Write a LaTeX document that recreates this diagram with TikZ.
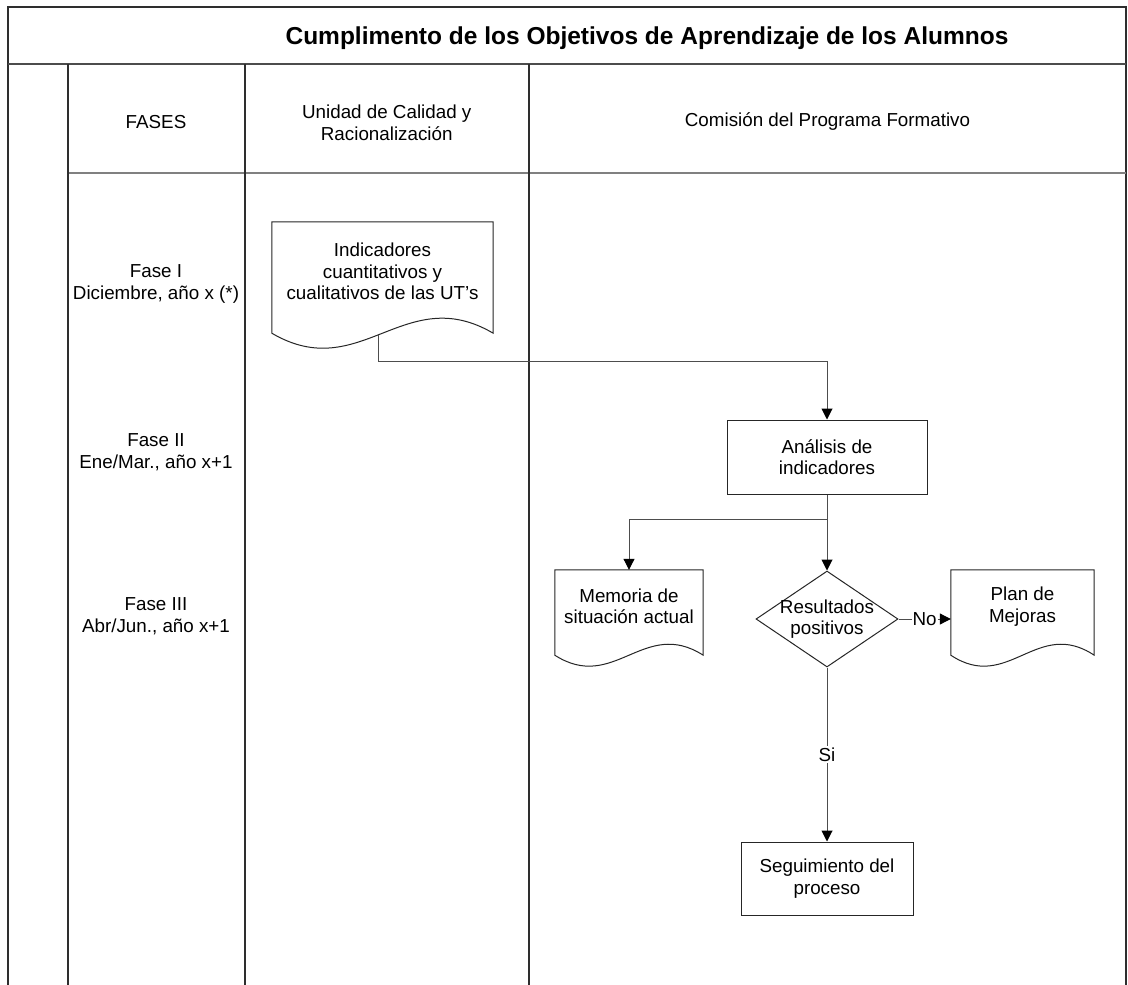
\documentclass[tikz,border=0pt]{standalone}
\usepackage{fontspec}
\setmainfont{Liberation Sans}
\usetikzlibrary{arrows.meta,positioning,calc,shapes.geometric}
\definecolor{laneline}{HTML}{2E2E2E}
\definecolor{flowline}{HTML}{4D4D4D}

% document outline round a node: node name, wave depth
\newcommand{\docoutline}[2]{%
  \draw[shapeline] (#1.north west) -- (#1.north east) -- ($(#1.south east)+(0,12)$)
    .. controls ($(#1.south east)!0.4!(#1.south west)+(0,12-#2)$)
    and ($(#1.south east)!0.6!(#1.south west)+(0,12+#2)$)
    .. ($(#1.south west)+(0,12)$) -- cycle;}

\begin{document}
\begin{tikzpicture}[x=1pt,y=-1pt,
  txt/.style={font={\fontsize{18.8}{21.5}\selectfont},align=center},
  procbox/.style={txt,draw=black!85,line width=1pt,inner sep=2pt},
  docbox/.style={txt,inner sep=0pt},
  decision/.style={diamond,draw=black!85,line width=1pt,inner sep=0pt},
  shapeline/.style={draw=black!85,line width=1pt},
  flow/.style={draw=flowline,line width=1pt,-{Triangle[length=11pt,width=11pt,color=black]}},
  lane/.style={draw=laneline,line width=1.6pt}]
  \useasboundingbox (0,0) rectangle (1128,985);
  \fill[white] (0,0) rectangle (1128,985);

  % Swimlane frame
  \draw[lane] (8,985) -- (8,7) -- (1126,7) -- (1126,985);
  \draw[lane,draw=black!70,line width=2.5pt] (8,64) -- (1126,64);
  \draw[lane,draw=black!50,line width=2pt] (68,173) -- (1126,173);
  \foreach \xl in {68,245,529}
    \draw[lane] (\xl,64) -- (\xl,985);

  % Title
  \node[font={\fontsize{24.5}{28}\selectfont\bfseries}] (title) at (647,38)
    {Cumplimento de los Objetivos de Aprendizaje de los Alumnos};

  % Lane headers
  \node[txt] (hfases) at (156,122) {FASES};
  \node[txt] (hucr) at (386.75,123) {Unidad de Calidad y\\Racionalización};
  \node[txt] (hcpf) at (827.5,122) {Comisión del Programa Formativo};

  % Phases
  \node[txt] (fase1) at (156,284) {Fase I\\Diciembre, año x (*)};
  \node[txt] (fase2) at (156,452) {Fase II\\Ene/Mar., año x+1};
  \node[txt] (fase3) at (156,616) {Fase III\\Abr/Jun., año x+1};

  % Flow shapes
  \node[docbox,minimum width=221pt,minimum height=99pt] (ind) at (382.5,271.5)
    {Indicadores\\cuantitativos y\\cualitativos de las UT's};
  \docoutline{ind}{52}
  \coordinate (indout) at ($(ind.south west)!0.48!(ind.south east)+(0,14)$);

  \node[procbox,minimum width=200pt,minimum height=74pt] (ana) at (827,457) {Análisis de\\indicadores};

  \node[docbox,minimum width=148pt,minimum height=73pt] (mem) at (629,606.5) {Memoria de\\situación actual};
  \docoutline{mem}{38}

  \node[decision,minimum width=142pt,minimum height=96pt] (dec) at (827,619) {};
  \node[txt] (declabel) at (dec.center) {Resultados\\positivos};

  \node[docbox,minimum width=143pt,minimum height=73pt] (plan) at (1022.5,606.5) {Plan de\\Mejoras};
  \docoutline{plan}{38}

  \node[procbox,minimum width=172pt,minimum height=73pt] (seg) at (827,878.5) {Seguimiento del\\proceso};

  % Connectors
  \draw[flow] (indout) -- ++(0,26) -| (ana.north);
  \draw[flow] (ana.south) -- (dec.north);
  \draw[flow] (ana.south) ++(0,25) -| (mem.north);
  \draw[flow] (dec.east) -- node[txt,fill=white,inner sep=1pt] {No} (dec.east -| plan.west);
  \draw[flow] (dec.south) -- node[txt,fill=white,inner sep=2pt] {Si} (seg.north);
\end{tikzpicture}
\end{document}
